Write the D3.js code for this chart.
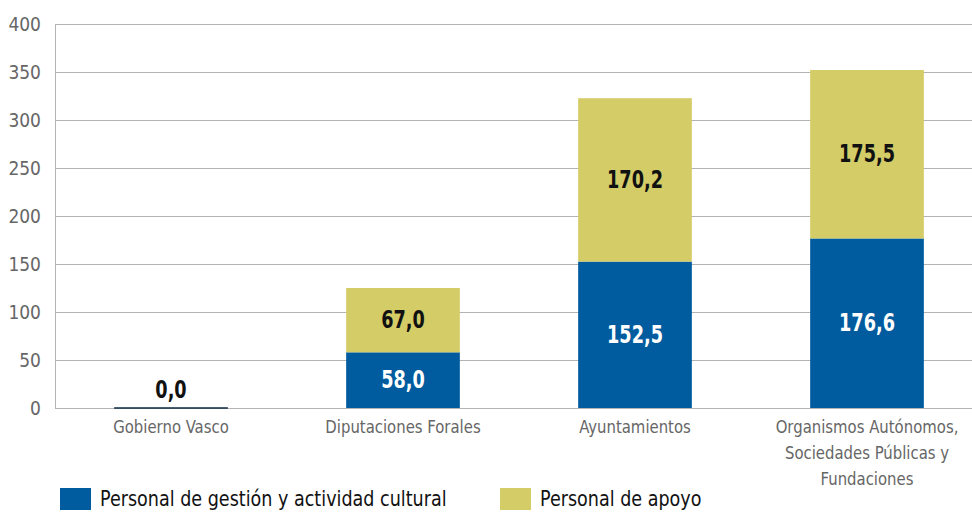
<!DOCTYPE html>
<html>
<head>
<meta charset="utf-8">
<script src="https://cdn.jsdelivr.net/npm/d3@7"></script>
<style>
  body { margin: 0; background: #fff; }
  svg text { font-family: "Liberation Sans Narrow", "DejaVu Sans Condensed", "Roboto", sans-serif; }
</style>
</head>
<body>
<svg id="chart" width="972" height="512"></svg>
<script>
// data
const categories = [
  ["Gobierno Vasco"],
  ["Diputaciones Forales"],
  ["Ayuntamientos"],
  ["Organismos Autónomos,", "Sociedades Públicas y", "Fundaciones"]
];
const gestion = [0.0, 58.0, 152.5, 176.6];
const apoyo = [0.0, 67.0, 170.2, 175.5];
const seriesNames = ["Personal de gestión y actividad cultural", "Personal de apoyo"];
const yTicks = [0, 50, 100, 150, 200, 250, 300, 350, 400];

const colors = ["#005c9e", "#d3cc67"];
const fmt = v => d3.format(".1f")(v).replace(".", ",");

const svg = d3.select("#chart");
const margin = { left: 55, right: 0, top: 24, bottom: 104 };
const W = 972, H = 512;

// narrow font look: squeeze text horizontally
function place(sel, fx, fy, sx) {
  return sel.attr("transform", function(d, i) {
    return "translate(" + fx(d, i) + "," + fy(d, i) + ") scale(" + sx + ",1)";
  });
}

const x = d3.scaleBand()
  .domain(d3.range(categories.length))
  .range([margin.left, 983])
  .paddingInner(0.51)
  .paddingOuter(0.255);

const y = d3.scaleLinear()
  .domain([0, 400])
  .range([H - margin.bottom, margin.top]);

// gridlines
svg.append("g")
  .selectAll("line")
  .data(yTicks)
  .enter().append("line")
  .attr("x1", margin.left)
  .attr("x2", W)
  .attr("y1", d => y(d) + 0.5)
  .attr("y2", d => y(d) + 0.5)
  .style("stroke", "#b3b3b3")
  .style("stroke-width", 1);

// y axis line
svg.append("line")
  .attr("x1", margin.left + 0.5)
  .attr("x2", margin.left + 0.5)
  .attr("y1", y(400))
  .attr("y2", y(0))
  .style("stroke", "#b3b3b3");

// y tick labels
place(svg.append("g")
  .selectAll("text")
  .data(yTicks)
  .enter().append("text")
  .attr("dy", "0.35em")
  .attr("text-anchor", "end")
  .style("font-size", "20px")
  .style("fill", "#666")
  .text(d => d), () => 41, d => y(d), 0.95);

// stacked bars
const stackData = categories.map((c, i) => ({ i: i, g: gestion[i], a: apoyo[i] }));
const bars = svg.append("g").selectAll("g")
  .data(stackData)
  .enter().append("g");

bars.append("rect")
  .attr("x", d => x(d.i))
  .attr("width", x.bandwidth())
  .attr("y", d => y(d.g))
  .attr("height", d => y(0) - y(d.g))
  .style("fill", colors[0]);

bars.append("rect")
  .attr("x", d => x(d.i))
  .attr("width", x.bandwidth())
  .attr("y", d => y(d.g + d.a))
  .attr("height", d => y(d.g) - y(d.g + d.a))
  .style("fill", colors[1]);

// zero bar drawn as a thin line
bars.filter(d => d.g + d.a === 0)
  .append("line")
  .attr("x1", d => x(d.i))
  .attr("x2", d => x(d.i) + x.bandwidth())
  .attr("y1", y(0))
  .attr("y2", y(0))
  .style("stroke", "#0b2a45")
  .style("stroke-width", 1.5);

// value labels
function valueLabel(g, cx, cy, txt, fill) {
  g.append("text")
    .attr("transform", "translate(" + cx + "," + cy + ") scale(0.82,1)")
    .attr("text-anchor", "middle")
    .style("font-size", "24px")
    .style("font-weight", "bold")
    .style("fill", fill)
    .text(txt);
}
bars.each(function(d) {
  const g = d3.select(this);
  const cx = x(d.i) + x.bandwidth() / 2;
  if (d.g + d.a === 0) {
    valueLabel(g, cx, y(0) - 10, fmt(0), "#111");
    return;
  }
  valueLabel(g, cx, (y(0) + y(d.g)) / 2 + 8, fmt(d.g), "#fff");
  valueLabel(g, cx, (y(d.g) + y(d.g + d.a)) / 2 + 8, fmt(d.a), "#111");
});

// category labels
const catLines = [];
categories.forEach((c, i) => c.forEach((t, j) => catLines.push({ t: t, i: i, j: j })));
place(svg.append("g").selectAll("text")
  .data(catLines)
  .enter().append("text")
  .attr("text-anchor", "middle")
  .style("font-size", "18px")
  .style("fill", "#666")
  .text(d => d.t), d => x(d.i) + x.bandwidth() / 2, d => 433 + d.j * 26, 0.92);

// legend
const legendX = [60, 500];
const legend = svg.append("g").selectAll("g")
  .data(seriesNames)
  .enter().append("g")
  .attr("transform", (d, i) => "translate(" + legendX[i] + ",488)");

legend.append("rect")
  .attr("width", 31)
  .attr("height", 22)
  .style("fill", (d, i) => colors[i]);

legend.append("text")
  .attr("transform", "translate(40,18) scale(0.93,1)")
  .style("font-size", "21px")
  .style("fill", "#111")
  .text(d => d);
</script>
</body>
</html>
